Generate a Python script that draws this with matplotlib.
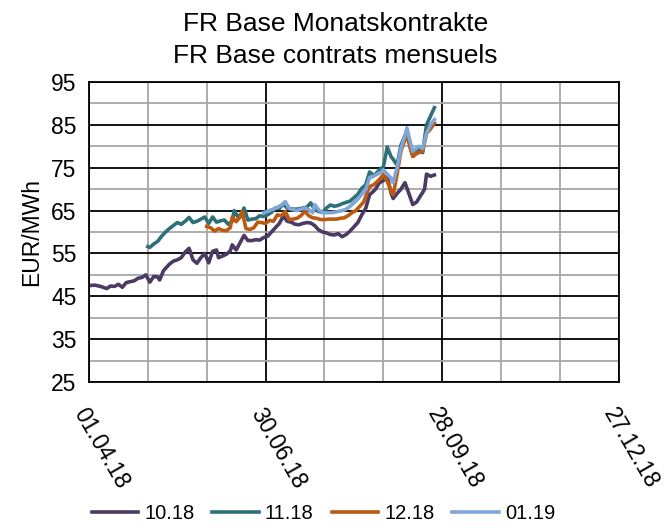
import matplotlib
matplotlib.use("Agg")
import matplotlib.pyplot as plt
import matplotlib.dates as mdates
import pandas as pd

plt.rcParams['font.family'] = ['Liberation Sans', 'DejaVu Sans']

start = pd.Timestamp('2018-04-01')

# day offsets from 01.04.18 and prices (EUR/MWh)
days_1018 = [0, 3, 6, 9, 11, 13, 15, 17, 19, 21, 23, 25, 27, 29, 31, 33, 35, 36, 38, 41,
             43, 45, 47, 49, 51, 53, 55, 57, 59, 61, 63, 65, 66, 68, 70, 72, 73, 75, 77, 79,
             81, 83, 85, 87, 89, 91, 93, 95, 97, 99, 101, 103, 105, 107, 109, 111, 113, 115, 117, 119,
             121, 123, 125, 127, 129, 131, 133, 135, 137, 139, 141, 143, 145, 146, 148, 150, 152, 154, 155, 157,
             159, 161, 163, 165, 167, 169, 170, 171, 172, 174, 176]
vals_1018 = [47.5, 47.6, 47.3, 46.8, 47.4, 47.3, 47.8, 47.1, 48.2, 48.4, 48.6, 49.2, 49.4, 50.0, 48.3, 49.6, 49.5, 48.8, 51.0, 52.5,
             53.2, 53.5, 54.0, 55.3, 56.2, 53.5, 52.7, 54.0, 55.0, 52.8, 55.5, 55.8, 54.0, 54.4, 54.8, 55.6, 57.0, 55.8, 57.5, 59.2,
             58.0, 58.0, 58.2, 58.1, 58.7, 59.0, 60.0, 61.0, 62.0, 63.7, 62.5, 62.3, 61.8, 61.7, 62.0, 62.2, 62.1, 61.5, 60.5, 60.0,
             59.8, 59.4, 59.3, 59.6, 58.9, 59.4, 60.2, 61.2, 62.2, 64.0, 65.5, 68.7, 69.5, 70.0, 71.5, 72.0, 72.9, 69.0, 67.8, 69.0,
             70.0, 71.5, 69.0, 66.4, 67.0, 68.5, 69.2, 70.0, 73.5, 73.0, 73.3]

days_1118 = [30, 31, 33, 35, 37, 39, 41, 43, 45, 47, 49, 51, 53, 55, 57, 59, 61, 63, 65, 67,
             69, 71, 73, 74, 76, 78, 79, 81, 83, 85, 87, 89, 91, 93, 95, 97, 99, 101, 103, 105,
             107, 109, 111, 113, 115, 117, 119, 121, 123, 125, 127, 129, 131, 133, 135, 137, 139, 141, 143, 145,
             146, 148, 150, 152, 154, 155, 157, 159, 161, 162, 164, 165, 167, 168, 170, 172, 174, 176]
vals_1118 = [56.6, 56.4, 57.2, 57.8, 59.0, 60.0, 60.8, 61.5, 62.2, 61.8, 62.5, 63.4, 62.2, 62.5, 63.0, 63.5, 62.0, 63.5, 62.3, 62.6,
             62.8, 61.8, 62.5, 65.0, 63.4, 64.5, 65.6, 62.8, 63.0, 63.1, 63.8, 63.6, 64.0, 64.6, 65.6, 65.5, 66.5, 65.6, 65.4, 65.3,
             65.4, 65.6, 65.8, 66.8, 65.2, 64.8, 64.6, 65.6, 66.3, 66.0, 66.2, 66.6, 66.9, 67.2, 68.0, 68.8, 70.2, 71.0, 74.0, 73.2,
             73.5, 74.5, 75.2, 79.8, 77.5, 77.0, 75.6, 80.3, 82.5, 83.4, 79.5, 78.0, 78.8, 79.2, 78.5, 85.0, 87.0, 89.0]

days_1218 = [60, 62, 64, 66, 68, 70, 72, 73, 75, 77, 78, 80, 82, 84, 86, 88, 90, 92, 94, 96,
             98, 100, 102, 104, 106, 108, 110, 112, 114, 116, 118, 120, 122, 124, 126, 128, 130, 132, 134, 136,
             138, 140, 142, 143, 145, 147, 149, 150, 152, 154, 155, 157, 159, 161, 162, 164, 165, 167, 168, 170,
             172, 174, 176]
vals_1218 = [61.3, 61.0, 60.2, 60.8, 60.4, 60.3, 61.0, 63.5, 62.4, 63.5, 64.8, 60.8, 60.6, 61.0, 62.3, 62.2, 62.0, 62.7, 62.5, 64.0,
             63.8, 64.8, 62.9, 63.0, 63.2, 63.8, 64.8, 63.8, 63.3, 63.2, 62.9, 62.9, 63.0, 63.0, 63.0, 63.2, 63.3, 63.8, 64.5, 65.0,
             66.0, 67.0, 69.5, 70.6, 71.0, 71.8, 72.8, 73.4, 71.8, 69.5, 68.7, 73.5, 79.0, 81.5, 82.7, 79.0, 77.6, 78.3, 78.5, 78.8,
             83.0, 84.0, 85.4]

days_0119 = [89, 91, 93, 95, 97, 99, 100, 102, 104, 106, 108, 110, 112, 114, 115, 117, 119, 121, 123, 125,
             127, 129, 131, 133, 135, 137, 139, 141, 143, 145, 147, 149, 150, 152, 154, 155, 157, 159, 161, 162,
             164, 165, 167, 168, 170, 172, 174, 176]
vals_0119 = [64.5, 64.8, 65.2, 65.5, 66.0, 66.6, 67.1, 65.5, 65.2, 65.0, 65.3, 65.6, 65.2, 64.5, 66.4, 65.2, 64.5, 64.5, 64.5, 64.6,
             64.8, 65.0, 65.3, 66.0, 66.8, 67.7, 68.8, 69.9, 72.7, 73.0, 73.5, 74.0, 74.5, 73.5, 72.5, 71.5, 75.0, 79.5, 82.5, 84.3,
             80.5, 78.8, 79.6, 80.0, 79.5, 83.0, 85.0, 86.2]

series = [
    ('10.18', days_1018, vals_1018, '#4B3A64'),
    ('11.18', days_1118, vals_1118, '#2E7078'),
    ('12.18', days_1218, vals_1218, '#BE5A0E'),
    ('01.19', days_0119, vals_0119, '#7FA6D8'),
]

fig = plt.figure(figsize=(6.64, 5.31), dpi=100)
ax = fig.add_axes([0.134, 0.2806, 0.798, 0.5650])

for name, d, v, c in series:
    x = [start + pd.Timedelta(days=k) for k in d]
    ax.plot(x, v, color=c, lw=2.6, label=name)

end = start + pd.Timedelta(days=270)
ax.set_xlim(start, end)
ax.set_ylim(25, 95)

major_dates = [start + pd.Timedelta(days=k) for k in range(0, 271, 90)]
minor_dates = [start + pd.Timedelta(days=k) for k in range(30, 270, 30) if k % 90 != 0]
ax.set_xticks(major_dates)
ax.set_xticks(minor_dates, minor=True)
ax.xaxis.set_major_formatter(mdates.DateFormatter('%d.%m.%y'))
ax.set_yticks(range(25, 96, 10))
ax.set_yticks(range(30, 95, 10), minor=True)

ax.grid(which='major', color='black', lw=1.3)
ax.grid(which='minor', color='#A6A6A6', lw=1.3)
ax.set_axisbelow(True)
ax.tick_params(which='both', length=0)
ax.tick_params(axis='y', labelsize=16.5, pad=9)
ax.tick_params(axis='x', labelsize=16.5, pad=16)
for lab in ax.get_xticklabels():
    lab.set_rotation(-60)
    lab.set_ha('left')
    lab.set_va('top')
    lab.set_rotation_mode('anchor')
for s in ax.spines.values():
    s.set_color('black')
    s.set_linewidth(1.3)

ax.set_ylabel('EUR/MWh', fontsize=16.5, labelpad=6)
fig.suptitle('FR Base Monatskontrakte\nFR Base contrats mensuels', x=0.505, y=0.978,
             fontsize=19, linespacing=1.45)

fig.legend(loc='lower center', bbox_to_anchor=(0.487, -0.02), ncol=4, frameon=False,
           fontsize=14.5, handlelength=2.3, handletextpad=0.3, columnspacing=0.9)

fig.savefig('out.png', dpi=100)
